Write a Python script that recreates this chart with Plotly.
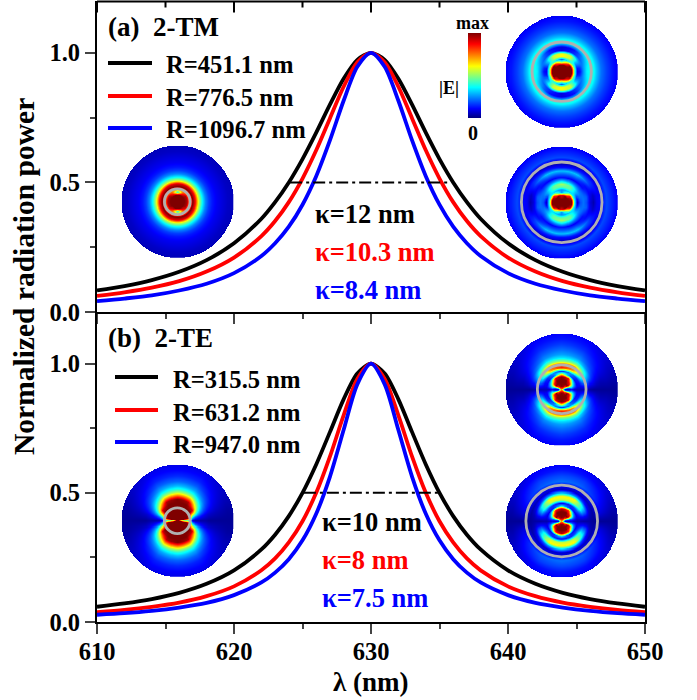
import numpy as np
import plotly.graph_objects as go

W, H = 697, 700
L, R, T, B = 97, 645, 1, 622
FONT = "Liberation Serif"

WAVELENGTH = [610, 612, 614, 616, 618, 620, 622, 623, 624, 625, 626, 627, 628, 629, 630,
              631, 632, 633, 634, 635, 636, 637, 638, 640, 642, 644, 646, 648, 650]

TM_BLACK = [.083, .100, .123, .155, .200, .265, .360, .424, .500, .590, .692, .800, .900, .973, 1.0,
            .973, .900, .800, .692, .590, .500, .424, .360, .265, .200, .155, .123, .100, .083]
TM_RED = [.062, .076, .094, .119, .156, .210, .293, .351, .424, .515, .624, .747, .869, .964, 1.0,
          .964, .869, .747, .624, .515, .424, .351, .293, .210, .156, .119, .094, .076, .062]
TM_BLUE = [.042, .052, .064, .083, .109, .150, .216, .265, .329, .414, .524, .662, .815, .946, 1.0,
           .946, .815, .662, .524, .414, .329, .265, .216, .150, .109, .083, .064, .052, .042]
TE_BLACK = [.059, .072, .089, .113, .148, .200, .281, .338, .410, .500, .610, .735, .862, .962, 1.0,
            .962, .862, .735, .610, .500, .410, .338, .281, .200, .148, .113, .089, .072, .059]
TE_RED = [.038, .047, .059, .075, .100, .138, .200, .246, .308, .390, .500, .640, .800, .941, 1.0,
          .941, .800, .640, .500, .390, .308, .246, .200, .138, .100, .075, .059, .047, .038]
TE_BLUE = [.028, .034, .043, .056, .074, .104, .153, .191, .243, .316, .419, .562, .743, .920, 1.0,
           .920, .743, .562, .419, .316, .243, .191, .153, .104, .074, .056, .043, .034, .028]

TM_LABELS = ["R=451.1 nm", "R=776.5 nm", "R=1096.7 nm"]
TE_LABELS = ["R=315.5 nm", "R=631.2 nm", "R=947.0 nm"]
TM_KAPPA = ["κ=12 nm", "κ=10.3 nm", "κ=8.4 nm"]
TE_KAPPA = ["κ=10 nm", "κ=8 nm", "κ=7.5 nm"]
COLORS = ["#000000", "#ff0000", "#0000ff"]
X_TICKS = [610, 620, 630, 640, 650]
X_MINOR = [615, 625, 635, 645]
Y_TICKS = [0.0, 0.5, 1.0]

# Inset field maps |E|: rows = radius, columns = angle from horizontal
FIELD_R = [0, .06, .12, .17, .22, .27, .32, .38, .44, .50, .56, .62, .70, .80, .90, 1.0]
FIELD_ANGLE = [0, 12, 35, 60, 90]
FIELD_TM_1 = [[1, 1, 1, 1, 1], [1, 1, 1, 1, 1], [1, 1, 1, 1, 1], [1, 1, 1, .75, .5],
              [.45, .5, .45, .35, .2], [.1, .12, .3, .55, .62], [.12, .15, .3, .55, .6],
              [.25, .25, .2, .15, .08], [.35, .33, .25, .12, .08], [.38, .38, .35, .3, .3],
              [.38, .38, .38, .38, .38], [.3, .3, .3, .3, .3], [.22, .22, .22, .22, .22],
              [.17, .17, .17, .17, .17], [.13, .13, .13, .13, .13], [.1, .1, .1, .1, .1]]
FIELD_TM_2 = [[1, 1, 1, 1, 1], [1, 1, 1, 1, 1], [1, 1, 1, 1, .9], [1, 1, .9, .5, .25],
              [.4, .4, .35, .3, .25], [.05, .1, .3, .45, .45], [.18, .2, .28, .45, .52],
              [.22, .22, .2, .25, .32], [.18, .2, .12, .1, .12], [.08, .1, .12, .2, .2],
              [.04, .06, .18, .3, .3], [.1, .1, .15, .15, .12], [.12, .1, .06, .04, .04],
              [.18, .18, .18, .18, .18], [.14, .14, .14, .14, .14], [.1, .1, .1, .1, .1]]
FIELD_TM_3 = [[1, 1, 1, 1, 1], [1, 1, 1, 1, 1], [1, 1, 1, 1, 1], [.95, .95, .95, .8, .35],
              [.7, .7, .7, .7, .75], [1, 1, 1, 1, 1], [.85, .85, .87, .9, .9], [.55, .55, .55, .55, .55],
              [.36, .36, .36, .36, .36], [.24, .24, .24, .24, .24], [.17, .17, .17, .17, .17],
              [.13, .13, .13, .13, .13], [.1, .1, .1, .1, .1], [.08, .08, .08, .08, .08],
              [.06, .06, .06, .06, .06], [.05, .05, .05, .05, .05]]
FIELD_TE_1 = [[.7, .7, .7, .7, .7], [.05, .2, .7, .95, 1], [.05, .2, 1, 1, 1], [.1, .3, .8, 1, 1],
              [.05, .2, .4, .9, 1], [.05, .1, .12, .2, .6], [.05, .1, .15, .25, .15],
              [.04, .15, .4, .7, .85], [.04, .2, .45, .8, .8], [.03, .12, .35, .5, .5],
              [.02, .1, .22, .34, .34], [.02, .07, .17, .25, .27], [.02, .05, .13, .2, .22],
              [.02, .05, .1, .15, .17], [.02, .04, .08, .12, .13], [.02, .04, .07, .1, .11]]
FIELD_TE_2 = [[.7, .7, .7, .7, .7], [.05, .2, .7, .95, 1], [.05, .2, 1, 1, 1], [.08, .2, .8, 1, 1],
              [.05, .15, .35, .85, .95], [.04, .08, .1, .15, .35], [.04, .1, .2, .15, .1],
              [.03, .12, .4, .55, .55], [.03, .1, .35, .62, .62], [.03, .05, .12, .25, .3],
              [.02, .03, .05, .06, .06], [.02, .06, .1, .1, .1], [.02, .08, .15, .2, .22],
              [.02, .06, .12, .17, .18], [.02, .04, .09, .12, .13], [.02, .04, .07, .1, .11]]
FIELD_TE_3 = [[1, 1, 1, 1, 1], [.5, 1, 1, 1, 1], [.4, 1, 1, 1, 1], [.4, 1, 1, 1, 1],
              [.3, .85, 1, 1, 1], [.05, .35, 1, 1, 1], [.03, .22, .9, 1, 1], [.03, .16, .6, .95, 1],
              [.03, .12, .42, .72, .78], [.03, .09, .3, .5, .55], [.02, .07, .22, .36, .4],
              [.02, .06, .17, .27, .3], [.02, .05, .12, .2, .21], [.02, .04, .09, .14, .15],
              [.02, .03, .07, .11, .11], [.02, .03, .06, .09, .09]]
JET = [[0, "#00007f"], [.11, "#0000ff"], [.36, "#00ffff"], [.61, "#ffff00"], [.87, "#ff0000"], [1, "#7f0000"]]

# (field table, centre x px, centre y px, grey-ring radius as a fraction of the disc radius)
INSETS = [(FIELD_TM_1, 561.7, 71.7, .53), (FIELD_TM_2, 561.7, 202.3, .72), (FIELD_TM_3, 177.3, 201.7, .23),
          (FIELD_TE_1, 561.7, 389.3, .435), (FIELD_TE_2, 561.7, 521.0, .64), (FIELD_TE_3, 177.3, 520.7, .23)]
DISC = 56


def px(x):
    return (x - L) / (R - L)


def py(y):
    return (B - y) / (B - T)


def field_image(table, n=224):
    t = np.array(table, float)
    axis = np.linspace(-1, 1, n)
    xx, yy = np.meshgrid(axis, axis)
    rr = np.hypot(xx, yy)
    th = np.degrees(np.arctan2(np.abs(yy), np.abs(xx)))
    ri = np.interp(rr, FIELD_R, np.arange(len(FIELD_R)))
    ai = np.interp(th, FIELD_ANGLE, np.arange(len(FIELD_ANGLE)))
    r0 = np.minimum(ri.astype(int), len(FIELD_R) - 2)
    a0 = np.minimum(ai.astype(int), len(FIELD_ANGLE) - 2)
    fr, fa = ri - r0, ai - a0
    z = (t[r0, a0] * (1 - fr) * (1 - fa) + t[r0 + 1, a0] * fr * (1 - fa)
         + t[r0, a0 + 1] * (1 - fr) * fa + t[r0 + 1, a0 + 1] * fr * fa)
    z[rr > 1] = np.nan
    return axis, z


fig = go.Figure()
for series, name, col in zip([TM_BLACK, TM_RED, TM_BLUE], TM_LABELS, COLORS):
    fig.add_trace(go.Scatter(x=WAVELENGTH, y=series, name=name, mode="lines", xaxis="x", yaxis="y",
                             line=dict(color=col, width=3.8, shape="spline", smoothing=.8)))
for series, name, col in zip([TE_BLACK, TE_RED, TE_BLUE], TE_LABELS, COLORS):
    fig.add_trace(go.Scatter(x=WAVELENGTH, y=series, name=name, mode="lines", xaxis="x2", yaxis="y2",
                             line=dict(color=col, width=3.8, shape="spline", smoothing=.8)))
fig.add_trace(go.Scatter(x=[624.1, 635.8], y=[.5, .5], mode="lines", xaxis="x", yaxis="y",
                         line=dict(color="black", width=2, dash="12px,4px,3px,4px")))
fig.add_trace(go.Scatter(x=[625.1, 635.0], y=[.5, .5], mode="lines", xaxis="x2", yaxis="y2",
                         line=dict(color="black", width=2, dash="12px,4px,3px,4px")))

tick = dict(family=FONT, size=24.5, color="black", weight="bold")
x_common = dict(range=[610, 650], tickvals=X_TICKS, ticks="outside", ticklen=10, tickwidth=2,
                showline=True, linewidth=2, linecolor="black", showgrid=False, zeroline=False,
                ticklabelstandoff=-3,
                minor=dict(dtick=5, ticks="outside", ticklen=5, tickwidth=2, tick0=610), tickfont=tick)
y_common = dict(range=[0, 1.2], tickvals=Y_TICKS, tickformat=".1f", ticks="outside", ticklen=10, tickwidth=2,
                showline=True, linewidth=2, linecolor="black", showgrid=False, zeroline=False, mirror=True,
                minor=dict(dtick=.25, ticks="outside", ticklen=5, tickwidth=2, tick0=0), tickfont=tick)
mid = py(312)
layout = dict(
    width=W, height=H, margin=dict(l=L, r=W - R, t=T, b=H - B),
    paper_bgcolor="white", plot_bgcolor="rgba(0,0,0,0)", showlegend=False,
    xaxis=dict(x_common, anchor="y", domain=[0, 1], showticklabels=False),
    yaxis=dict(y_common, anchor="x", domain=[mid, 1]),
    xaxis2=dict(x_common, anchor="y2", domain=[0, 1]),
    yaxis2=dict(y_common, anchor="x2", domain=[0, mid]),
    coloraxis=dict(cmin=0, cmax=1, colorscale=JET,
                   colorbar=dict(xref="paper", yref="paper", x=px(468), xanchor="left", y=py(118), yanchor="bottom",
                                 thickness=13, thicknessmode="pixels", len=85, lenmode="pixels",
                                 xpad=0, ypad=0, outlinewidth=0, ticks="", showticklabels=False)),
)

shapes = []
# top frame of panel (a) with inward-pointing ticks
shapes.append(dict(type="line", xref="paper", yref="paper", x0=0, x1=1, y0=py(1.5), y1=py(1.5),
                   line=dict(color="black", width=2)))
for v, n in [(v, 11) for v in X_TICKS] + [(v, 6) for v in X_MINOR]:
    shapes.append(dict(type="line", xref="x", yref="paper", x0=v, x1=v, y0=py(1.5), y1=py(1.5 + n),
                       line=dict(color="black", width=2)))

for i, (table, cx, cy, ring) in enumerate(INSETS):
    k = i + 4
    axis, z = field_image(table)
    fig.add_trace(go.Heatmap(x=axis, y=axis, z=z, coloraxis="coloraxis", xaxis=f"x{k}", yaxis=f"y{k}",
                             hoverinfo="skip", zsmooth=False))
    layout[f"xaxis{k}"] = dict(domain=[px(cx - DISC), px(cx + DISC)], range=[-1, 1], visible=False,
                               anchor=f"y{k}", fixedrange=True)
    layout[f"yaxis{k}"] = dict(domain=[py(cy + DISC), py(cy - DISC)], range=[-1, 1], visible=False,
                               anchor=f"x{k}", fixedrange=True)
    shapes.append(dict(type="circle", xref=f"x{k}", yref=f"y{k}", x0=-ring, x1=ring, y0=-ring, y1=ring,
                       line=dict(color="#b0b0b0", width=2.8), layer="above"))

annots = []


def text(x, y, s, size=24, color="black", anchor="left", angle=0):
    annots.append(dict(xref="paper", yref="paper", x=px(x), y=py(y), text=s, showarrow=False, xanchor=anchor,
                       yanchor="middle", textangle=angle, borderpad=0, borderwidth=0,
                       font=dict(family=FONT, size=size, color=color, weight="bold")))


text(108, 27, "(a)  2-TM", 27)
text(108, 338, "(b)  2-TE", 27)
for lab, col, yy in zip(TM_LABELS, COLORS, [64, 97, 129]):
    text(166, yy, lab, 24.6)
    shapes.append(dict(type="line", xref="paper", yref="paper", x0=px(108), x1=px(152), y0=py(yy - 1), y1=py(yy - 1),
                       line=dict(color=col, width=3.8)))
for lab, col, yy in zip(TE_LABELS, COLORS, [379, 412, 444]):
    text(173, yy, lab, 24.6)
    shapes.append(dict(type="line", xref="paper", yref="paper", x0=px(115), x1=px(158), y0=py(yy - 2), y1=py(yy - 2),
                       line=dict(color=col, width=3.8)))
for lab, col, yy in zip(TM_KAPPA, COLORS, [214, 252, 290]):
    text(315, yy, lab, 26.5, col)
for lab, col, yy in zip(TE_KAPPA, COLORS, [522, 560, 598]):
    text(322, yy, lab, 26.5, col)
text(472, 23, "max", 18, anchor="center")
text(449, 88, "|E|", 18, anchor="center")
text(473, 133, "0", 20, anchor="center")
text(24, 277, "Normalized radiation power", 29.5, anchor="center", angle=-90)
text(371, 682, "λ (nm)", 27, anchor="center")

layout["shapes"] = shapes
layout["annotations"] = annots
fig.update_layout(**layout)
fig.write_html("out.html", config=dict(displayModeBar=False),
               post_script="document.body.style.margin='0px';document.documentElement.style.overflow='hidden';")
